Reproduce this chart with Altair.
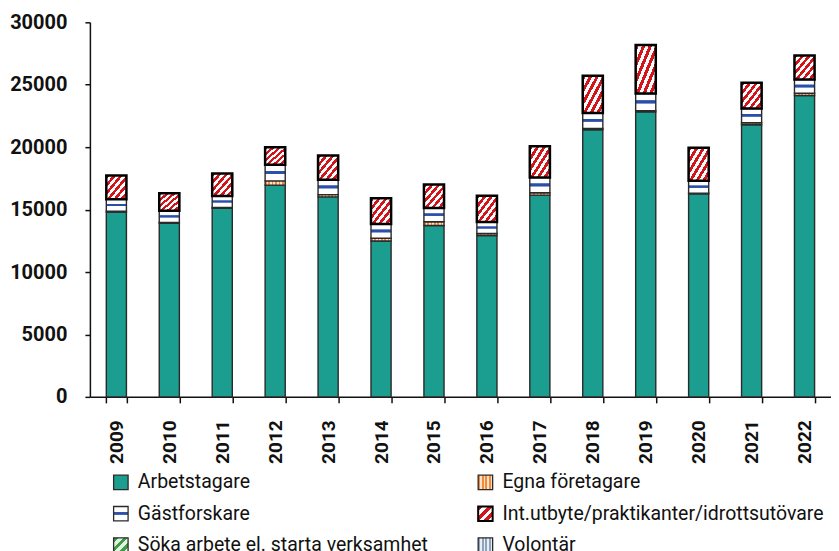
import altair as alt
import pandas as pd

years = ["2009", "2010", "2011", "2012", "2013", "2014", "2015",
         "2016", "2017", "2018", "2019", "2020", "2021", "2022"]
categories = ["Arbetstagare", "Egna företagare", "Gästforskare",
              "Int.utbyte/praktikanter/idrottsutövare",
              "Söka arbete el. starta verksamhet", "Volontär"]

arbetstagare = [14800, 13900, 15100, 16960, 16020, 12480, 13730,
                12930, 16160, 21400, 22830, 16260, 21790, 24140]
egna = [80, 80, 80, 340, 180, 220, 300, 160, 190, 100, 100, 60, 160, 180]
gastforskare = [940, 920, 900, 1290, 1200, 1140, 1090,
                910, 1220, 1240, 1360, 990, 1150, 1100]
intutbyte = [1920, 1400, 1820, 1410, 1930, 2060, 1880,
             2100, 2510, 2990, 3890, 2640, 2050, 1920]
soka = [0, 0, 0, 0, 0, 0, 0, 0, 0, 0, 0, 0, 0, 0]
volontar = [0, 0, 0, 0, 0, 0, 0, 0, 0, 0, 0, 0, 0, 0]

y_ticks = [0, 5000, 10000, 15000, 20000, 25000, 30000]

series = [arbetstagare, egna, gastforskare, intutbyte, soka, volontar]
rows = []
for ci, (cat, vals) in enumerate(zip(categories, series)):
    for yr, v in zip(years, vals):
        rows.append({"year": yr, "cat": cat, "value": v, "order": ci})
df = pd.DataFrame(rows)

leg_df = pd.DataFrame({
    "label": categories,
    "col": [i % 2 for i in range(len(categories))],
    "row": [i // 2 for i in range(len(categories))],
})


def stripes(c1, c2, n, x1, y1, x2, y2):
    stops = []
    for k in range(n):
        a = k / n
        b = (k + 0.5) / n
        c = (k + 1) / n
        stops += [{"offset": a, "color": c1}, {"offset": b, "color": c1},
                  {"offset": b, "color": c2}, {"offset": c, "color": c2}]
    return {"gradient": "linear", "x1": x1, "y1": y1, "x2": x2, "y2": y2,
            "stops": stops}


def hline(c_bg, c_light, c_dark):
    return {"gradient": "linear", "x1": 0, "y1": 0, "x2": 0, "y2": 1,
            "stops": [
                {"offset": 0, "color": c_bg}, {"offset": 0.36, "color": c_bg},
                {"offset": 0.36, "color": c_light}, {"offset": 0.42, "color": c_dark},
                {"offset": 0.54, "color": c_dark}, {"offset": 0.6, "color": c_light},
                {"offset": 0.6, "color": c_bg}, {"offset": 1, "color": c_bg}]}


RED = "#d2141b"
bar_fills = {
    categories[0]: "#1b9e8f",
    categories[1]: stripes("#f08a3a", "#fde2c8", 6, 0, 0, 1, 0),
    categories[2]: hline("#ffffff", "#9fb2e0", "#2b4ea8"),
    categories[3]: stripes(RED, "#ffffff", 6, 0, 0, 1, 1),
    categories[4]: stripes("#4caf50", "#e6f4e6", 3, 0, 0, 1, 1),
    categories[5]: stripes("#8fa3bd", "#e8eef5", 3, 0, 0, 1, 0),
}
leg_fills = {
    categories[0]: "#1b9e8f",
    categories[1]: stripes("#f08a3a", "#fde2c8", 4, 0, 0, 1, 0),
    categories[2]: hline("#ffffff", "#9fb2e0", "#2b4ea8"),
    categories[3]: stripes(RED, "#ffffff", 3, 0, 0, 1, 1),
    categories[4]: stripes("#3f9d45", "#e2f2e2", 3, 0, 0, 1, 1),
    categories[5]: stripes("#8fa3bd", "#e8eef5", 4, 0, 0, 1, 0),
}
strokes = {c: ("#000000" if c == categories[3] else "#2a2a2a") for c in categories}
stroke_w = {c: (2.5 if c == categories[3] else 1.4) for c in categories}

AX = "#111111"
W = 742
x_enc = alt.X(
    "year:O", title=None, sort=years,
    scale=alt.Scale(paddingInner=0.62, paddingOuter=0.31),
    axis=alt.Axis(labelAngle=-90, tickBand="extent", labelFontSize=19,
                  labelFontWeight="bold", labelPadding=17, tickSize=6,
                  domainColor=AX, tickColor=AX, labelColor=AX,
                  domainWidth=1.5, tickWidth=1.5, labelFont="Roboto"))
y_enc = alt.Y(
    "y0:Q", title=None,
    scale=alt.Scale(domain=[0, 30000], nice=False),
    axis=alt.Axis(values=y_ticks, format="d", labelFontSize=20,
                  labelFontWeight="bold", labelPadding=18, tickSize=5,
                  domainColor=AX, tickColor=AX, labelColor=AX,
                  domainWidth=1.5, tickWidth=1.5, grid=False,
                  labelFont="Roboto"))

base = alt.Chart(df).transform_filter("datum.value > 0").transform_stack(
    stack="value", groupby=["year"], as_=["y0", "y1"],
    sort=[alt.SortField("order", order="ascending")])

layers = []
for c in categories:
    layers.append(
        base.transform_filter(alt.datum.cat == c)
        .mark_bar(fill=bar_fills[c], stroke=strokes[c], strokeWidth=stroke_w[c])
        .encode(x=x_enc, y=y_enc, y2="y1:Q")
    )
main = alt.layer(*layers).properties(width=W, height=375)

lx = alt.X("col:Q", scale=alt.Scale(domain=[-0.0849, 1.948], nice=False, zero=False), axis=None)
ly = alt.Y("row:Q", scale=alt.Scale(domain=[-0.5, 2.5], reverse=True, nice=False, zero=False), axis=None)
leg_base = alt.Chart(leg_df)
leg_layers = []
for c in categories:
    leg_layers.append(
        leg_base.transform_filter(alt.datum.label == c)
        .mark_square(size=210, filled=True, fill=leg_fills[c],
                     stroke=strokes[c], strokeWidth=1.3 if c != categories[3] else 2,
                     opacity=1)
        .encode(x=lx, y=ly)
    )
leg_layers.append(
    leg_base.mark_text(align="left", baseline="middle", dx=17, fontSize=19.5,
                       font="Roboto", color="#111111")
    .encode(x=lx, y=ly, text="label:N")
)
legend = alt.layer(*leg_layers).properties(width=W, height=94)

chart = (
    alt.vconcat(main, legend, spacing=3)
    .properties(padding={"left": 1, "top": 4, "right": 0, "bottom": 0})
    .configure(font="Roboto")
    .configure_view(stroke=None)
)

chart.save("out.html", embed_options={"renderer": "svg", "actions": False})
